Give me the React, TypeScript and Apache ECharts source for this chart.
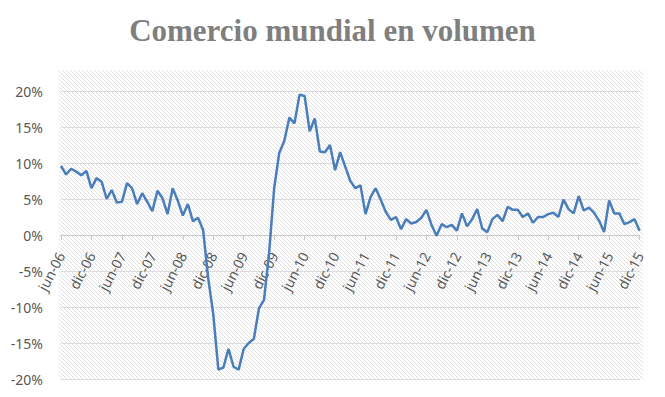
import React, { useEffect, useRef } from "react";
import * as echarts from "echarts";

// Month abbreviations (Spanish) and span of the series (jun-06 .. dic-15)
const MONTHS = ["ene", "feb", "mar", "abr", "may", "jun", "jul", "ago", "sep", "oct", "nov", "dic"];
const START_YEAR = 2006;
const START_MONTH = 5; // jun
const N_POINTS = 115;

// Year-on-year growth of world trade volume (%), monthly
const part1 = [9.6, 8.4, 9.2, 8.8, 8.3, 8.9, 6.5, 7.9, 7.4, 5.0, 6.25, 4.5, 4.6, 7.2, 6.5, 4.3, 5.8, 4.6, 3.3, 6.15, 5.1, 2.9, 6.5, 4.8, 2.7, 4.3, 1.9, 2.4, 0.7];
const part2 = [-6.0, -11.0, -18.7, -18.4, -15.8, -18.3, -18.7, -15.8, -15.0, -14.4, -10.2, -9.0, -2.5];
const part3 = [6.5, 11.4, 13.1, 16.3, 15.5, 19.5, 19.3, 14.4, 16.2, 11.6, 11.5, 12.5, 9.0, 11.5, 9.5, 7.5, 6.5, 6.9, 2.9, 5.3, 6.5];
const part4 = [4.9, 3.2, 2.1, 2.5, 0.8, 2.2, 1.6, 1.8, 2.4, 3.5, 1.4, -0.1, 1.5, 1.1, 1.4, 0.6, 3.0, 1.2, 2.2, 3.6, 0.9, 0.4, 2.2, 2.8, 1.9, 3.9];
const part5 = [3.5, 3.5, 2.5, 3.0, 1.7, 2.5, 2.5, 2.9, 3.1, 2.5, 4.9, 3.6, 3.0, 5.4, 3.4, 3.8, 3.1, 2.0, 0.4, 4.8, 3.0, 3.0, 1.5, 1.8, 2.2, 0.6];
const values = [...part1, ...part2, ...part3, ...part4, ...part5];

const Y_MIN = -20;
const Y_MAX = 20;
const Y_STEP = 5;

const TITLE = "Comercio mundial en volumen";

function buildCategories(): string[] {
  const out: string[] = [];
  for (let i = 0; i < N_POINTS; i++) {
    const m = START_MONTH + i;
    const y = START_YEAR + Math.floor(m / 12);
    out.push(`${MONTHS[m % 12]}-${String(y % 100).padStart(2, "0")}`);
  }
  return out;
}

const hatchSvg =
  "data:image/svg+xml;utf8," +
  encodeURIComponent(
    '<svg xmlns="http://www.w3.org/2000/svg" width="4" height="4">' +
      '<rect width="4" height="4" fill="#ffffff"/>' +
      '<path d="M-1,-1 L5,5 M-1,3 L1,5 M3,-1 L5,1" stroke="#e2e2e2" stroke-width="1"/>' +
      "</svg>"
  );

export default function App() {
  const ref = useRef<HTMLDivElement>(null);

  useEffect(() => {
    if (!ref.current) return;
    const chart = echarts.init(ref.current, null, { renderer: "svg" });
    const categories = buildCategories();

    const GRID_LEFT = 61;
    const GRID_RIGHT = 25.4;
    const GRID_TOP = 91;
    const GRID_HEIGHT = 288;
    // the horizontal axis sits at the 0% line
    const zeroY = GRID_TOP + (GRID_HEIGHT * (Y_MAX - 0)) / (Y_MAX - Y_MIN);

    chart.setOption({
      animation: false,
      backgroundColor: "#ffffff",
      title: {
        text: TITLE,
        left: "center",
        top: 10,
        textStyle: {
          fontFamily: "Liberation Serif",
          fontWeight: "bold",
          fontSize: 31,
          color: "#7f7f7f",
        },
      },
      graphic: [
        {
          type: "rect",
          z: -10,
          silent: true,
          shape: { x: 59, y: 70, width: 584, height: 310 },
          style: {
            fill: {
              image: hatchSvg,
              repeat: "repeat",
              imageWidth: 4,
              imageHeight: 4,
            } as any,
          },
        },
      ],
      grid: [
        {
          left: GRID_LEFT,
          right: GRID_RIGHT,
          top: GRID_TOP,
          height: GRID_HEIGHT,
          containLabel: false,
          outerBoundsMode: "none",
        },
        {
          left: GRID_LEFT,
          right: GRID_RIGHT,
          top: GRID_TOP,
          height: zeroY - GRID_TOP,
          containLabel: false,
          outerBoundsMode: "none",
        },
      ],
      xAxis: [
        {
          type: "category",
          gridIndex: 0,
          data: categories,
          boundaryGap: false,
          axisLine: { show: false },
          axisTick: { show: false },
          axisLabel: { show: false },
          splitLine: { show: false },
        },
        {
          type: "category",
          gridIndex: 1,
          position: "bottom",
          data: categories,
          boundaryGap: false,
          axisLine: { show: true, onZero: false, lineStyle: { color: "#c8c8c8", width: 1 } },
          axisTick: { show: true, interval: 5, length: 5, lineStyle: { color: "#c8c8c8" } },
          axisLabel: {
            interval: 5,
            rotate: 62,
            margin: 18,
            color: "#595959",
            fontFamily: "Noto Sans",
            fontSize: 14,
          },
          splitLine: { show: false },
        },
      ],
      yAxis: [
        {
          type: "value",
          gridIndex: 0,
          min: Y_MIN,
          max: Y_MAX,
          interval: Y_STEP,
          axisLine: { show: false },
          axisTick: { show: false },
          axisLabel: {
            margin: 18,
            color: "#595959",
            fontFamily: "Noto Sans",
            fontSize: 14,
            formatter: (v: number) => `${v}%`,
          },
          splitLine: { show: true, lineStyle: { color: "#dcdcdc", width: 1 } },
        },
        {
          type: "value",
          gridIndex: 1,
          min: 0,
          max: 1,
          show: false,
        },
      ],
      series: [
        {
          type: "line",
          xAxisIndex: 0,
          yAxisIndex: 0,
          data: values,
          symbol: "none",
          lineStyle: { color: "#4a7ebb", width: 2.5 },
          z: 3,
        },
      ],
    });

    return () => {
      chart.dispose();
    };
  }, []);

  return (
    <div
      ref={ref}
      style={{ position: "fixed", left: 0, top: 0, width: 665, height: 397 }}
    />
  );
}
